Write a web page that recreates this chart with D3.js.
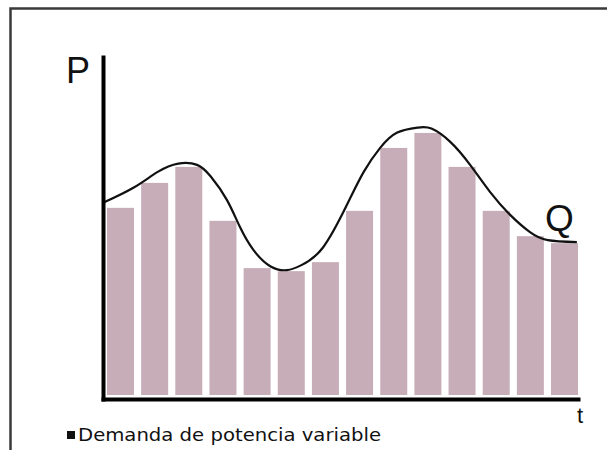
<!DOCTYPE html>
<html>
<head>
<meta charset="utf-8">
<script src="https://cdn.jsdelivr.net/npm/d3@7"></script>
<style>
  html, body { margin: 0; padding: 0; background: #fff; }
  svg { display: block; }
</style>
</head>
<body>
<svg id="chart" width="607" height="450"></svg>
<script>
// ---- data ----
const periods = ["1","2","3","4","5","6","7","8","9","10","11","12","13","14"];
const demand = [56.2, 63.7, 68.5, 52.3, 38.1, 37.2, 39.9, 55.3, 74.2, 78.7, 68.5, 55.3, 47.7, 45.6];
// envelope curve Q: [time position (in periods), power]
const curveT = [0, 0.9, 1.6, 2.2, 2.75, 3.15, 3.62, 4.00, 4.4, 4.9, 5.38, 5.8, 6.43, 7.13, 7.62, 8.1, 8.6, 9.2, 9.6, 10.15, 10.73, 11.31, 11.9, 12.48, 13.0, 13.85];
const curveP = [57.7, 62.3, 67.0, 69.5, 69.1, 65.6, 58.6, 50.5, 43.5, 38.6, 37.5, 39.0, 44.3, 57.1, 67.0, 74.2, 78.8, 80.3, 80.0, 76.0, 69.1, 61.0, 54.1, 48.9, 46.5, 45.9];
const yLabel = "P";
const xLabel = "t";
const curveLabel = "Q";
const legendLabel = "Demanda de potencia variable";

// ---- layout ----
const svg = d3.select("#chart");
const plot = { left: 103, right: 582, bottom: 395, top: 62 };

const x = d3.scaleBand().domain(periods).range([plot.left, plot.right])
  .paddingInner(0.21).paddingOuter(0.117);
const xc = d3.scaleLinear().domain([0, periods.length]).range([plot.left, plot.right]);
const y = d3.scaleLinear().domain([0, 100]).range([plot.bottom, plot.top]);

// frame
svg.append("rect")
  .attr("x", 10.5).attr("y", 8.5).attr("width", 620).attr("height", 460)
  .attr("fill", "none").attr("stroke", "#3a3a3a").attr("stroke-width", 2.5);

// bars
svg.append("g").selectAll("rect").data(demand).join("rect")
  .attr("x", (d, i) => x(periods[i]))
  .attr("y", d => y(d))
  .attr("width", x.bandwidth())
  .attr("height", d => y(0) - y(d))
  .attr("fill", "#c6adb8");

// curve
const pts = curveT.map((t, i) => [t, curveP[i]]);
svg.append("path").datum(pts)
  .attr("d", d3.line().x(d => xc(d[0])).y(d => y(d[1])).curve(d3.curveNatural))
  .attr("fill", "none").attr("stroke", "#111").attr("stroke-width", 2.2);

// axes (no ticks)
const yAxisScale = d3.scaleLinear().domain([0, 1]).range([401, 55]);
const xAxisScale = d3.scaleLinear().domain([0, 1]).range([101, 580]);
const gy = svg.append("g").attr("transform", `translate(${plot.left},0)`)
  .call(d3.axisLeft(yAxisScale).ticks(0).tickSizeOuter(0));
const gx = svg.append("g").attr("transform", `translate(0,399)`)
  .call(d3.axisBottom(xAxisScale).ticks(0).tickSizeOuter(0));
gy.select(".domain").attr("stroke", "#000").attr("stroke-width", 4);
gx.select(".domain").attr("stroke", "#000").attr("stroke-width", 4);

// labels
svg.append("text").attr("x", 66).attr("y", 83)
  .attr("font-family", "Liberation Sans, Arial, sans-serif").attr("font-size", 36)
  .attr("fill", "#111").text(yLabel);
svg.append("text").attr("x", 545).attr("y", 231)
  .attr("font-family", "Liberation Sans, Arial, sans-serif").attr("font-size", 37)
  .attr("fill", "#111").text(curveLabel);
svg.append("text").attr("x", 577).attr("y", 423)
  .attr("font-family", "Liberation Sans, Arial, sans-serif").attr("font-size", 22)
  .attr("fill", "#111").text(xLabel);

// legend
svg.append("rect").attr("x", 67).attr("y", 431).attr("width", 8).attr("height", 8).attr("fill", "#111");
svg.append("text").attr("x", 78).attr("y", 441)
  .attr("font-family", "DejaVu Sans, sans-serif").attr("font-size", 18.5)
  .attr("textLength", 303).attr("lengthAdjust", "spacingAndGlyphs")
  .attr("fill", "#111").text(legendLabel);
</script>
</body>
</html>
